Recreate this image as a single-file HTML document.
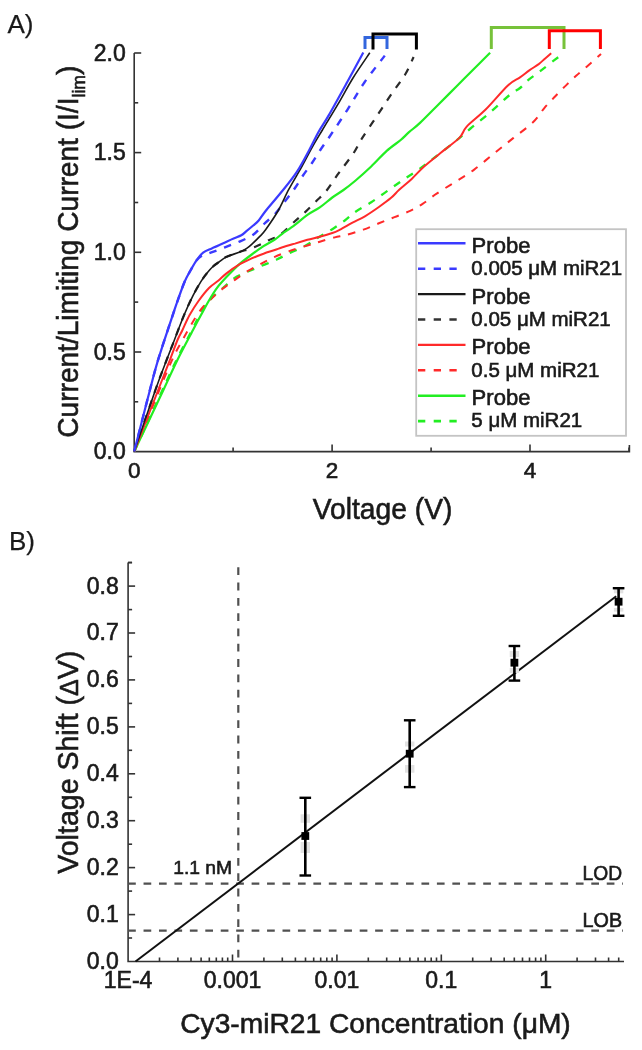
<!DOCTYPE html>
<html><head><meta charset="utf-8"><style>
html,body{margin:0;padding:0;background:#fff;}
svg{display:block;filter:blur(0.6px);}
</style></head><body>
<svg width="642" height="1050" viewBox="0 0 642 1050">
<rect width="642" height="1050" fill="#fff"/>
<text x="7.5" y="32.6" font-size="26" font-family="Liberation Sans, sans-serif" fill="#1a1a1a" stroke="#1a1a1a" stroke-width="0.25">A)</text>
<path d="M134.2,53 V451.6 H629.4 V445" fill="none" stroke="#333333" stroke-width="1.6"/>
<line x1="134.2" y1="401.8" x2="138.2" y2="401.8" stroke="#333333" stroke-width="1.6"/>
<line x1="134.2" y1="352.0" x2="141.2" y2="352.0" stroke="#333333" stroke-width="1.6"/>
<line x1="134.2" y1="302.1" x2="138.2" y2="302.1" stroke="#333333" stroke-width="1.6"/>
<line x1="134.2" y1="252.3" x2="141.2" y2="252.3" stroke="#333333" stroke-width="1.6"/>
<line x1="134.2" y1="202.5" x2="138.2" y2="202.5" stroke="#333333" stroke-width="1.6"/>
<line x1="134.2" y1="152.6" x2="141.2" y2="152.6" stroke="#333333" stroke-width="1.6"/>
<line x1="134.2" y1="102.8" x2="138.2" y2="102.8" stroke="#333333" stroke-width="1.6"/>
<line x1="134.2" y1="53.0" x2="141.2" y2="53.0" stroke="#333333" stroke-width="1.6"/>
<text x="125.8" y="459.2" font-size="23" text-anchor="end" font-family="Liberation Sans, sans-serif" fill="#1a1a1a" stroke="#1a1a1a" stroke-width="0.6">0.0</text>
<text x="125.8" y="359.6" font-size="23" text-anchor="end" font-family="Liberation Sans, sans-serif" fill="#1a1a1a" stroke="#1a1a1a" stroke-width="0.6">0.5</text>
<text x="125.8" y="259.9" font-size="23" text-anchor="end" font-family="Liberation Sans, sans-serif" fill="#1a1a1a" stroke="#1a1a1a" stroke-width="0.6">1.0</text>
<text x="125.8" y="160.2" font-size="23" text-anchor="end" font-family="Liberation Sans, sans-serif" fill="#1a1a1a" stroke="#1a1a1a" stroke-width="0.6">1.5</text>
<text x="125.8" y="60.6" font-size="23" text-anchor="end" font-family="Liberation Sans, sans-serif" fill="#1a1a1a" stroke="#1a1a1a" stroke-width="0.6">2.0</text>
<line x1="233.1" y1="451.6" x2="233.1" y2="447.6" stroke="#333333" stroke-width="1.6"/>
<line x1="332.1" y1="451.6" x2="332.1" y2="444.6" stroke="#333333" stroke-width="1.6"/>
<line x1="431.1" y1="451.6" x2="431.1" y2="447.6" stroke="#333333" stroke-width="1.6"/>
<line x1="530.0" y1="451.6" x2="530.0" y2="444.6" stroke="#333333" stroke-width="1.6"/>
<line x1="629.0" y1="451.6" x2="629.0" y2="447.6" stroke="#333333" stroke-width="1.6"/>
<text x="134.2" y="478.3" font-size="22.5" text-anchor="middle" font-family="Liberation Sans, sans-serif" fill="#1a1a1a" stroke="#1a1a1a" stroke-width="0.6">0</text>
<text x="332.1" y="478.3" font-size="22.5" text-anchor="middle" font-family="Liberation Sans, sans-serif" fill="#1a1a1a" stroke="#1a1a1a" stroke-width="0.6">2</text>
<text x="530.0" y="478.3" font-size="22.5" text-anchor="middle" font-family="Liberation Sans, sans-serif" fill="#1a1a1a" stroke="#1a1a1a" stroke-width="0.6">4</text>
<text x="382.6" y="518.7" font-size="29" text-anchor="middle" textLength="139.5" lengthAdjust="spacingAndGlyphs" font-family="Liberation Sans, sans-serif" fill="#1a1a1a" stroke="#1a1a1a" stroke-width="0.6">Voltage (V)</text>
<text transform="translate(78,251.7) rotate(-90) scale(0.952,1)" font-size="29.5" text-anchor="middle" font-family="Liberation Sans, sans-serif" fill="#1a1a1a" stroke="#1a1a1a" stroke-width="0.6">Current/Limiting Current (I/I<tspan font-size="18.5" dy="7.3">lim</tspan><tspan dy="-7.3">)</tspan></text>
<path d="M134.2,451.6 C138.9,441.3 155.4,405.3 162.5,390.0 C169.6,374.7 171.7,369.8 176.5,360.0 C181.3,350.2 187.2,339.4 191.5,331.0 C195.8,322.6 199.0,315.4 202.5,309.8 C206.0,304.2 208.9,301.0 212.4,297.3 C215.9,293.6 220.2,290.5 223.7,287.4 C227.2,284.3 229.7,281.2 233.6,278.6 C237.5,276.0 242.5,274.0 247.3,271.8 C252.1,269.6 257.5,267.5 262.3,265.5 C267.1,263.5 271.6,261.9 276.2,259.8 C280.8,257.7 285.1,255.2 289.9,252.9 C294.7,250.6 300.3,248.6 304.9,246.1 C309.5,243.6 313.0,240.7 317.4,238.0 C321.8,235.3 326.5,232.8 331.1,229.9 C335.7,227.0 340.7,223.5 344.8,220.5 C348.9,217.5 351.2,214.7 355.6,211.7 C360.0,208.7 366.0,205.7 371.2,202.3 C376.4,198.9 381.5,195.0 386.7,191.4 C391.9,187.8 397.0,184.1 402.3,180.5 C407.6,176.9 412.9,173.6 418.5,169.6 C424.1,165.6 429.5,161.5 436.0,156.5 C442.5,151.5 451.6,144.4 457.4,139.7 C463.1,135.0 464.9,133.2 470.5,128.5 C476.1,123.8 484.5,117.3 491.0,111.7 C497.5,106.1 504.9,98.9 509.7,94.9 C514.5,91.0 516.9,90.5 520.0,88.0 C523.1,85.5 525.0,82.7 528.4,79.9 C531.8,77.1 535.9,74.5 540.2,71.2 C544.5,67.9 550.4,63.2 554.3,60.2 C558.2,57.2 562.0,54.4 563.6,53.2" fill="none" stroke="#22ee22" stroke-width="2.3" stroke-dasharray="7.5 8" stroke-linejoin="round"/>
<path d="M134.2,451.6 C140.0,437.5 160.8,385.9 168.9,367.2 C177.0,348.5 177.9,348.5 183.0,339.2 C188.1,329.9 194.8,318.2 199.5,311.5 C204.2,304.8 207.2,302.8 211.0,299.0 C214.8,295.2 218.5,292.0 222.5,288.8 C226.5,285.6 230.6,282.9 234.9,279.9 C239.2,276.8 244.0,273.3 248.6,270.5 C253.2,267.7 257.9,265.4 262.3,263.1 C266.7,260.8 270.0,258.9 274.8,256.8 C279.6,254.7 285.8,252.3 291.2,250.4 C296.6,248.5 302.6,246.9 307.4,245.5 C312.2,244.1 315.2,243.0 319.8,241.7 C324.4,240.3 330.4,238.5 334.8,237.4 C339.2,236.3 341.4,236.3 346.2,235.0 C351.0,233.7 357.9,231.5 363.4,229.6 C368.8,227.7 373.7,225.4 378.9,223.3 C384.1,221.2 389.3,219.2 394.5,217.1 C399.7,215.0 405.4,213.1 410.1,210.9 C414.8,208.7 418.2,206.8 422.6,203.9 C427.0,201.0 431.2,197.3 436.6,193.7 C442.0,190.0 448.7,186.0 455.0,182.0 C461.3,178.0 467.6,174.5 474.2,169.6 C480.8,164.7 488.2,158.1 494.8,152.8 C501.4,147.5 507.1,143.0 513.5,137.9 C519.9,132.8 527.8,127.3 533.0,122.3 C538.2,117.3 540.8,112.1 544.5,107.8 C548.2,103.5 551.8,100.0 555.3,96.3 C558.8,92.6 562.3,89.0 565.8,85.6 C569.3,82.2 572.6,79.0 576.1,75.8 C579.6,72.6 582.9,70.1 587.0,66.5 C591.1,62.9 598.7,56.1 601.0,54.0" fill="none" stroke="#ff2a2a" stroke-width="2" stroke-dasharray="7.5 8" stroke-linejoin="round"/>
<path d="M134.2,451.6 C137.7,441.3 150.0,405.3 155.4,390.0 C160.8,374.7 163.4,368.3 166.6,360.0 C169.8,351.7 171.5,347.5 174.4,340.0 C177.3,332.5 181.0,322.4 184.1,315.0 C187.2,307.6 190.2,301.2 193.0,295.6 C195.8,290.0 198.8,285.0 201.2,281.1 C203.6,277.2 205.5,274.8 207.5,272.4 C209.5,270.0 211.1,268.2 213.0,266.5 C214.9,264.8 216.8,263.6 219.0,262.0 C221.2,260.4 222.7,258.7 226.0,257.1 C229.3,255.5 234.2,253.9 239.1,252.2 C244.0,250.5 250.4,248.7 255.4,246.7 C260.4,244.7 264.7,242.2 268.8,240.2 C272.9,238.2 275.6,238.1 280.0,234.9 C284.4,231.7 290.8,224.9 294.9,221.2 C299.0,217.4 301.4,215.7 304.9,212.4 C308.4,209.1 312.6,204.7 316.1,201.2 C319.6,197.7 322.6,195.5 326.1,191.2 C329.6,186.9 334.4,179.2 337.2,175.2 C340.0,171.2 340.3,171.1 343.1,167.3 C345.9,163.5 350.8,157.4 354.0,152.5 C357.2,147.6 358.4,144.1 362.3,137.9 C366.2,131.7 372.3,122.9 377.3,115.4 C382.3,107.9 387.5,99.8 392.2,93.0 C396.9,86.2 401.7,80.3 405.3,74.3 C408.9,68.3 412.2,59.9 413.6,57.0" fill="none" stroke="#2a2a2a" stroke-width="2.2" stroke-dasharray="7.5 8" stroke-linejoin="round"/>
<path d="M134.2,451.6 C137.4,439.1 148.9,393.5 153.4,376.6 C157.9,359.7 158.6,358.4 161.2,350.1 C163.8,341.8 166.3,334.5 168.9,326.7 C171.5,318.9 174.1,310.8 176.7,303.4 C179.3,295.9 182.2,287.5 184.5,282.0 C186.8,276.5 188.5,274.1 190.5,270.5 C192.5,266.9 194.7,262.9 196.5,260.5 C198.3,258.1 199.1,257.3 201.5,256.0 C203.9,254.7 206.8,254.1 210.7,252.7 C214.6,251.2 220.0,249.2 224.9,247.3 C229.8,245.4 235.5,243.4 240.2,241.3 C244.9,239.2 249.2,237.6 253.2,234.7 C257.2,231.8 260.4,227.4 264.0,224.0 C267.6,220.6 271.3,218.0 275.0,214.0 C278.7,210.0 282.7,204.3 286.0,200.0 C289.3,195.7 292.2,192.1 295.0,188.0 C297.8,183.9 300.2,179.7 303.0,175.5 C305.8,171.3 309.2,167.2 312.0,163.0 C314.8,158.8 317.2,154.8 320.0,150.5 C322.8,146.2 324.4,144.3 329.0,137.5 C333.6,130.7 341.5,118.9 347.4,109.8 C353.3,100.7 358.0,91.7 364.2,82.7 C370.4,73.7 381.4,60.1 384.8,55.6" fill="none" stroke="#3a3aff" stroke-width="2.4" stroke-dasharray="7.5 8" stroke-linejoin="round"/>
<path d="M134.2,451.6 C139.1,441.3 156.2,405.3 163.4,390.0 C170.6,374.7 172.5,370.0 177.4,360.0 C182.3,350.0 189.1,337.5 193.0,330.0 C196.9,322.5 198.3,319.9 201.0,315.0 C203.7,310.1 206.3,305.1 209.0,300.5 C211.7,295.9 214.3,291.5 217.4,287.4 C220.5,283.3 223.9,279.9 227.4,276.1 C230.9,272.4 234.7,268.4 238.6,264.9 C242.5,261.4 246.9,258.1 251.1,255.0 C255.2,251.9 259.6,248.8 263.5,246.2 C267.4,243.6 271.6,241.6 274.8,239.5 C278.0,237.4 279.1,236.0 282.5,233.6 C285.9,231.2 290.8,228.0 294.9,224.9 C299.0,221.8 303.2,217.8 307.4,214.9 C311.5,212.0 315.6,210.3 319.8,207.4 C324.0,204.5 328.4,200.4 332.3,197.5 C336.2,194.6 339.6,192.8 343.5,190.0 C347.4,187.2 351.0,184.4 355.6,180.5 C360.2,176.6 366.0,171.4 371.2,166.5 C376.4,161.6 381.8,155.3 386.7,150.9 C391.6,146.5 397.0,143.1 400.7,140.0 C404.4,136.9 405.8,135.0 409.0,132.2 C412.2,129.3 415.1,127.6 420.0,122.9 C424.9,118.2 432.5,110.4 438.7,104.2 C444.9,98.0 451.2,91.7 457.4,85.5 C463.6,79.3 470.7,72.2 476.1,66.8 C481.6,61.3 487.8,55.1 490.1,52.8" fill="none" stroke="#22ee22" stroke-width="2.2" stroke-linejoin="round"/>
<path d="M134.2,451.6 C138.2,441.3 152.2,405.3 158.2,390.0 C164.1,374.7 166.7,368.3 169.9,360.0 C173.1,351.7 175.4,345.0 177.5,340.0 C179.6,335.0 180.5,334.2 182.5,330.0 C184.5,325.8 186.9,319.8 189.6,315.0 C192.3,310.2 195.3,305.5 198.5,301.0 C201.7,296.5 205.7,291.4 209.0,288.0 C212.3,284.6 215.6,282.9 218.5,280.5 C221.4,278.1 222.8,276.2 226.2,273.6 C229.5,271.0 234.4,267.4 238.6,264.9 C242.8,262.4 246.9,260.6 251.1,258.7 C255.2,256.8 259.6,255.1 263.5,253.7 C267.4,252.2 271.6,251.1 274.8,250.0 C278.0,248.9 279.1,248.4 282.5,247.3 C285.9,246.2 290.8,244.8 294.9,243.6 C299.0,242.3 303.2,241.0 307.4,239.8 C311.5,238.7 315.6,237.8 319.8,236.7 C324.0,235.6 328.9,234.2 332.3,233.0 C335.7,231.8 336.6,231.3 340.0,229.6 C343.4,227.9 348.4,224.8 352.5,222.6 C356.6,220.4 360.5,218.9 364.9,216.3 C369.3,213.7 374.5,210.1 378.9,207.0 C383.3,203.9 388.0,200.5 391.4,197.6 C394.8,194.7 395.8,192.9 399.2,189.8 C402.6,186.7 407.5,182.8 411.7,178.9 C415.9,175.0 419.3,170.8 424.1,166.5 C428.9,162.2 434.6,157.8 440.5,153.0 C446.4,148.2 454.9,142.3 459.3,137.9 C463.7,133.5 462.4,131.3 466.7,126.6 C471.0,121.9 478.5,116.6 485.4,109.8 C492.3,103.0 502.1,90.9 507.9,85.5 C513.7,80.1 516.4,79.9 520.0,77.4 C523.6,74.9 526.2,72.6 529.3,70.4 C532.4,68.2 536.1,66.0 538.7,64.1 C541.3,62.1 542.8,60.5 544.9,58.7 C547.0,56.9 550.2,54.1 551.2,53.2" fill="none" stroke="#ff2a2a" stroke-width="2" stroke-linejoin="round"/>
<path d="M134.2,451.6 C137.7,441.3 150.0,405.3 155.4,390.0 C160.8,374.7 163.4,368.3 166.6,360.0 C169.8,351.7 171.5,347.5 174.4,340.0 C177.3,332.5 181.0,322.4 184.1,315.0 C187.2,307.6 190.2,301.2 193.0,295.6 C195.8,290.0 198.8,285.0 201.2,281.1 C203.6,277.2 205.5,274.8 207.5,272.4 C209.5,270.0 211.1,268.2 213.0,266.5 C214.9,264.8 216.8,263.6 219.0,262.0 C221.2,260.4 222.7,258.7 226.0,257.1 C229.3,255.5 235.7,253.6 239.1,252.2 C242.5,250.8 244.3,249.9 246.7,248.4 C249.0,246.9 251.0,244.9 253.2,242.9 C255.4,240.9 257.7,238.6 259.8,236.4 C261.9,234.2 262.6,233.9 265.6,229.7 C268.6,225.5 274.1,217.8 278.0,211.0 C281.9,204.2 285.0,196.5 288.9,189.2 C292.8,181.9 297.5,174.4 301.4,167.4 C305.3,160.4 308.8,153.3 312.3,147.1 C315.8,140.9 318.1,137.2 322.4,130.0 C326.7,122.8 332.9,112.9 338.0,104.2 C343.1,95.5 347.7,86.6 353.0,78.0 C358.3,69.4 367.0,57.0 369.8,52.8" fill="none" stroke="#1a1a1a" stroke-width="1.6" stroke-linejoin="round"/>
<path d="M134.2,451.6 C137.4,439.1 148.9,393.5 153.4,376.6 C157.9,359.7 158.6,358.4 161.2,350.1 C163.8,341.8 166.3,334.5 168.9,326.7 C171.5,318.9 174.1,310.8 176.7,303.4 C179.3,295.9 182.2,287.5 184.5,282.0 C186.8,276.5 188.5,274.1 190.5,270.5 C192.5,266.9 194.4,263.3 196.5,260.3 C198.6,257.3 200.5,254.7 203.1,252.7 C205.7,250.7 208.5,249.9 211.8,248.4 C215.1,246.9 219.1,245.1 222.7,243.4 C226.3,241.8 230.5,239.8 233.6,238.5 C236.7,237.2 239.1,236.6 241.3,235.3 C243.5,234.0 244.7,232.5 246.7,230.9 C248.7,229.3 251.2,227.2 253.2,225.5 C255.2,223.8 256.6,222.9 258.7,220.5 C260.8,218.1 261.9,215.7 265.6,211.0 C269.4,206.3 276.0,198.8 281.2,192.3 C286.4,185.8 292.0,179.2 296.7,172.1 C301.4,165.0 305.9,156.2 309.5,149.5 C313.1,142.8 315.3,137.7 318.5,132.0 C321.7,126.3 323.9,123.8 328.7,115.4 C333.5,107.0 341.6,92.3 347.4,81.8 C353.2,71.3 360.6,57.4 363.3,52.5" fill="none" stroke="#3a3aff" stroke-width="2.2" stroke-linejoin="round"/>
<path d="M365,49 V37.5 H387 V49" fill="none" stroke="#3366dd" stroke-width="3"/>
<path d="M373,49.5 V34 H416.4 V49.5" fill="none" stroke="#000" stroke-width="3"/>
<path d="M491.3,49 V27.6 H564 V49" fill="none" stroke="#77c23a" stroke-width="3"/>
<path d="M549.3,49 V30.7 H600.4 V49" fill="none" stroke="#ff0000" stroke-width="3"/>
<rect x="416.2" y="229.2" width="209.8" height="206.6" fill="#fff" stroke="#c4c4c4" stroke-width="1.8"/>
<line x1="418" y1="243.3" x2="465.5" y2="243.3" stroke="#3a3aff" stroke-width="2.4"/>
<text x="471.6" y="252.8" font-size="21.5" textLength="58.8" lengthAdjust="spacingAndGlyphs" font-family="Liberation Sans, sans-serif" fill="#1a1a1a" stroke="#1a1a1a" stroke-width="0.6">Probe</text>
<line x1="418" y1="268.7" x2="457" y2="268.7" stroke="#3a3aff" stroke-width="2.6" stroke-dasharray="7.3 8.4"/>
<text x="471.3" y="274.9" font-size="20.5" font-family="Liberation Sans, sans-serif" fill="#1a1a1a" stroke="#1a1a1a" stroke-width="0.6">0.005 μM miR21</text>
<line x1="418" y1="294.1" x2="465.5" y2="294.1" stroke="#1a1a1a" stroke-width="2.4"/>
<text x="471.6" y="303.6" font-size="21.5" textLength="58.8" lengthAdjust="spacingAndGlyphs" font-family="Liberation Sans, sans-serif" fill="#1a1a1a" stroke="#1a1a1a" stroke-width="0.6">Probe</text>
<line x1="418" y1="319.5" x2="457" y2="319.5" stroke="#333" stroke-width="2.6" stroke-dasharray="7.3 8.4"/>
<text x="471.3" y="325.7" font-size="20.5" font-family="Liberation Sans, sans-serif" fill="#1a1a1a" stroke="#1a1a1a" stroke-width="0.6">0.05 μM miR21</text>
<line x1="418" y1="344.9" x2="465.5" y2="344.9" stroke="#ff2a2a" stroke-width="2.4"/>
<text x="471.6" y="354.4" font-size="21.5" textLength="58.8" lengthAdjust="spacingAndGlyphs" font-family="Liberation Sans, sans-serif" fill="#1a1a1a" stroke="#1a1a1a" stroke-width="0.6">Probe</text>
<line x1="418" y1="370.3" x2="457" y2="370.3" stroke="#ff2a2a" stroke-width="2.6" stroke-dasharray="7.3 8.4"/>
<text x="471.3" y="376.5" font-size="20.5" font-family="Liberation Sans, sans-serif" fill="#1a1a1a" stroke="#1a1a1a" stroke-width="0.6">0.5 μM miR21</text>
<line x1="418" y1="395.7" x2="465.5" y2="395.7" stroke="#22ee22" stroke-width="2.4"/>
<text x="471.6" y="405.2" font-size="21.5" textLength="58.8" lengthAdjust="spacingAndGlyphs" font-family="Liberation Sans, sans-serif" fill="#1a1a1a" stroke="#1a1a1a" stroke-width="0.6">Probe</text>
<line x1="418" y1="421.1" x2="457" y2="421.1" stroke="#22ee22" stroke-width="2.6" stroke-dasharray="7.3 8.4"/>
<text x="471.3" y="427.3" font-size="20.5" font-family="Liberation Sans, sans-serif" fill="#1a1a1a" stroke="#1a1a1a" stroke-width="0.6">5 μM miR21</text>
<text x="9.0" y="550.0" font-size="26" font-family="Liberation Sans, sans-serif" fill="#1a1a1a" stroke="#1a1a1a" stroke-width="0.25">B)</text>
<path d="M128.1,562.5 V961.5 H624" fill="none" stroke="#333333" stroke-width="1.6"/>
<line x1="128.1" y1="562.5" x2="132" y2="562.5" stroke="#333333" stroke-width="1.6"/>
<line x1="128.1" y1="938.0" x2="132.1" y2="938.0" stroke="#333333" stroke-width="1.6"/>
<line x1="128.1" y1="914.6" x2="135.1" y2="914.6" stroke="#333333" stroke-width="1.6"/>
<line x1="128.1" y1="891.1" x2="132.1" y2="891.1" stroke="#333333" stroke-width="1.6"/>
<line x1="128.1" y1="867.6" x2="135.1" y2="867.6" stroke="#333333" stroke-width="1.6"/>
<line x1="128.1" y1="844.2" x2="132.1" y2="844.2" stroke="#333333" stroke-width="1.6"/>
<line x1="128.1" y1="820.7" x2="135.1" y2="820.7" stroke="#333333" stroke-width="1.6"/>
<line x1="128.1" y1="797.3" x2="132.1" y2="797.3" stroke="#333333" stroke-width="1.6"/>
<line x1="128.1" y1="773.8" x2="135.1" y2="773.8" stroke="#333333" stroke-width="1.6"/>
<line x1="128.1" y1="750.3" x2="132.1" y2="750.3" stroke="#333333" stroke-width="1.6"/>
<line x1="128.1" y1="726.9" x2="135.1" y2="726.9" stroke="#333333" stroke-width="1.6"/>
<line x1="128.1" y1="703.4" x2="132.1" y2="703.4" stroke="#333333" stroke-width="1.6"/>
<line x1="128.1" y1="679.9" x2="135.1" y2="679.9" stroke="#333333" stroke-width="1.6"/>
<line x1="128.1" y1="656.5" x2="132.1" y2="656.5" stroke="#333333" stroke-width="1.6"/>
<line x1="128.1" y1="633.0" x2="135.1" y2="633.0" stroke="#333333" stroke-width="1.6"/>
<line x1="128.1" y1="609.6" x2="132.1" y2="609.6" stroke="#333333" stroke-width="1.6"/>
<line x1="128.1" y1="586.1" x2="135.1" y2="586.1" stroke="#333333" stroke-width="1.6"/>
<line x1="128.1" y1="562.6" x2="132.1" y2="562.6" stroke="#333333" stroke-width="1.6"/>
<text x="118.8" y="968.9" font-size="23" text-anchor="end" font-family="Liberation Sans, sans-serif" fill="#1a1a1a" stroke="#1a1a1a" stroke-width="0.6">0.0</text>
<text x="118.8" y="922.0" font-size="23" text-anchor="end" font-family="Liberation Sans, sans-serif" fill="#1a1a1a" stroke="#1a1a1a" stroke-width="0.6">0.1</text>
<text x="118.8" y="875.0" font-size="23" text-anchor="end" font-family="Liberation Sans, sans-serif" fill="#1a1a1a" stroke="#1a1a1a" stroke-width="0.6">0.2</text>
<text x="118.8" y="828.1" font-size="23" text-anchor="end" font-family="Liberation Sans, sans-serif" fill="#1a1a1a" stroke="#1a1a1a" stroke-width="0.6">0.3</text>
<text x="118.8" y="781.2" font-size="23" text-anchor="end" font-family="Liberation Sans, sans-serif" fill="#1a1a1a" stroke="#1a1a1a" stroke-width="0.6">0.4</text>
<text x="118.8" y="734.3" font-size="23" text-anchor="end" font-family="Liberation Sans, sans-serif" fill="#1a1a1a" stroke="#1a1a1a" stroke-width="0.6">0.5</text>
<text x="118.8" y="687.3" font-size="23" text-anchor="end" font-family="Liberation Sans, sans-serif" fill="#1a1a1a" stroke="#1a1a1a" stroke-width="0.6">0.6</text>
<text x="118.8" y="640.4" font-size="23" text-anchor="end" font-family="Liberation Sans, sans-serif" fill="#1a1a1a" stroke="#1a1a1a" stroke-width="0.6">0.7</text>
<text x="118.8" y="593.5" font-size="23" text-anchor="end" font-family="Liberation Sans, sans-serif" fill="#1a1a1a" stroke="#1a1a1a" stroke-width="0.6">0.8</text>
<line x1="159.5" y1="961.5" x2="159.5" y2="957.5" stroke="#333333" stroke-width="1.6"/>
<line x1="177.9" y1="961.5" x2="177.9" y2="957.5" stroke="#333333" stroke-width="1.6"/>
<line x1="191.0" y1="961.5" x2="191.0" y2="957.5" stroke="#333333" stroke-width="1.6"/>
<line x1="201.1" y1="961.5" x2="201.1" y2="957.5" stroke="#333333" stroke-width="1.6"/>
<line x1="209.3" y1="961.5" x2="209.3" y2="957.5" stroke="#333333" stroke-width="1.6"/>
<line x1="216.3" y1="961.5" x2="216.3" y2="957.5" stroke="#333333" stroke-width="1.6"/>
<line x1="222.4" y1="961.5" x2="222.4" y2="957.5" stroke="#333333" stroke-width="1.6"/>
<line x1="227.7" y1="961.5" x2="227.7" y2="957.5" stroke="#333333" stroke-width="1.6"/>
<line x1="232.5" y1="961.5" x2="232.5" y2="954.5" stroke="#333333" stroke-width="1.6"/>
<line x1="263.9" y1="961.5" x2="263.9" y2="957.5" stroke="#333333" stroke-width="1.6"/>
<line x1="282.3" y1="961.5" x2="282.3" y2="957.5" stroke="#333333" stroke-width="1.6"/>
<line x1="295.4" y1="961.5" x2="295.4" y2="957.5" stroke="#333333" stroke-width="1.6"/>
<line x1="305.5" y1="961.5" x2="305.5" y2="957.5" stroke="#333333" stroke-width="1.6"/>
<line x1="313.7" y1="961.5" x2="313.7" y2="957.5" stroke="#333333" stroke-width="1.6"/>
<line x1="320.7" y1="961.5" x2="320.7" y2="957.5" stroke="#333333" stroke-width="1.6"/>
<line x1="326.8" y1="961.5" x2="326.8" y2="957.5" stroke="#333333" stroke-width="1.6"/>
<line x1="332.1" y1="961.5" x2="332.1" y2="957.5" stroke="#333333" stroke-width="1.6"/>
<line x1="336.9" y1="961.5" x2="336.9" y2="954.5" stroke="#333333" stroke-width="1.6"/>
<line x1="368.3" y1="961.5" x2="368.3" y2="957.5" stroke="#333333" stroke-width="1.6"/>
<line x1="386.7" y1="961.5" x2="386.7" y2="957.5" stroke="#333333" stroke-width="1.6"/>
<line x1="399.8" y1="961.5" x2="399.8" y2="957.5" stroke="#333333" stroke-width="1.6"/>
<line x1="409.9" y1="961.5" x2="409.9" y2="957.5" stroke="#333333" stroke-width="1.6"/>
<line x1="418.1" y1="961.5" x2="418.1" y2="957.5" stroke="#333333" stroke-width="1.6"/>
<line x1="425.1" y1="961.5" x2="425.1" y2="957.5" stroke="#333333" stroke-width="1.6"/>
<line x1="431.2" y1="961.5" x2="431.2" y2="957.5" stroke="#333333" stroke-width="1.6"/>
<line x1="436.5" y1="961.5" x2="436.5" y2="957.5" stroke="#333333" stroke-width="1.6"/>
<line x1="441.3" y1="961.5" x2="441.3" y2="954.5" stroke="#333333" stroke-width="1.6"/>
<line x1="472.7" y1="961.5" x2="472.7" y2="957.5" stroke="#333333" stroke-width="1.6"/>
<line x1="491.1" y1="961.5" x2="491.1" y2="957.5" stroke="#333333" stroke-width="1.6"/>
<line x1="504.2" y1="961.5" x2="504.2" y2="957.5" stroke="#333333" stroke-width="1.6"/>
<line x1="514.3" y1="961.5" x2="514.3" y2="957.5" stroke="#333333" stroke-width="1.6"/>
<line x1="522.5" y1="961.5" x2="522.5" y2="957.5" stroke="#333333" stroke-width="1.6"/>
<line x1="529.5" y1="961.5" x2="529.5" y2="957.5" stroke="#333333" stroke-width="1.6"/>
<line x1="535.6" y1="961.5" x2="535.6" y2="957.5" stroke="#333333" stroke-width="1.6"/>
<line x1="540.9" y1="961.5" x2="540.9" y2="957.5" stroke="#333333" stroke-width="1.6"/>
<line x1="545.7" y1="961.5" x2="545.7" y2="954.5" stroke="#333333" stroke-width="1.6"/>
<line x1="577.1" y1="961.5" x2="577.1" y2="957.5" stroke="#333333" stroke-width="1.6"/>
<line x1="595.5" y1="961.5" x2="595.5" y2="957.5" stroke="#333333" stroke-width="1.6"/>
<line x1="608.6" y1="961.5" x2="608.6" y2="957.5" stroke="#333333" stroke-width="1.6"/>
<line x1="618.7" y1="961.5" x2="618.7" y2="957.5" stroke="#333333" stroke-width="1.6"/>
<text x="128.1" y="987.8" font-size="23" text-anchor="middle" font-family="Liberation Sans, sans-serif" fill="#1a1a1a" stroke="#1a1a1a" stroke-width="0.6">1E-4</text>
<text x="232.5" y="987.8" font-size="23" text-anchor="middle" font-family="Liberation Sans, sans-serif" fill="#1a1a1a" stroke="#1a1a1a" stroke-width="0.6">0.001</text>
<text x="336.9" y="987.8" font-size="23" text-anchor="middle" font-family="Liberation Sans, sans-serif" fill="#1a1a1a" stroke="#1a1a1a" stroke-width="0.6">0.01</text>
<text x="441.3" y="987.8" font-size="23" text-anchor="middle" font-family="Liberation Sans, sans-serif" fill="#1a1a1a" stroke="#1a1a1a" stroke-width="0.6">0.1</text>
<text x="545.7" y="987.8" font-size="23" text-anchor="middle" font-family="Liberation Sans, sans-serif" fill="#1a1a1a" stroke="#1a1a1a" stroke-width="0.6">1</text>
<text x="375.5" y="1032.8" font-size="28.5" text-anchor="middle" textLength="390.5" lengthAdjust="spacingAndGlyphs" font-family="Liberation Sans, sans-serif" fill="#1a1a1a" stroke="#1a1a1a" stroke-width="0.6">Cy3-miR21 Concentration (μM)</text>
<text transform="translate(77.7,762.2) rotate(-90) scale(0.985,1)" font-size="29" text-anchor="middle" font-family="Liberation Sans, sans-serif" fill="#1a1a1a" stroke="#1a1a1a" stroke-width="0.6">Voltage Shift (<tspan font-size="25.5">Δ</tspan>V)</text>
<line x1="128.1" y1="883.6" x2="623" y2="883.6" stroke="#505050" stroke-width="2.2" stroke-dasharray="7.7 7.74"/>
<line x1="128.1" y1="930.7" x2="623" y2="930.7" stroke="#505050" stroke-width="2.2" stroke-dasharray="7.7 7.74"/>
<line x1="238.3" y1="567.3" x2="238.3" y2="961.5" stroke="#505050" stroke-width="2.2" stroke-dasharray="7.8 7.5"/>
<text x="173.2" y="873.6" font-size="19" textLength="59" lengthAdjust="spacingAndGlyphs" font-family="Liberation Sans, sans-serif" fill="#1a1a1a" stroke="#1a1a1a" stroke-width="0.6">1.1 nM</text>
<text x="582.6" y="880.4" font-size="19.5" textLength="39.5" lengthAdjust="spacingAndGlyphs" font-family="Liberation Sans, sans-serif" fill="#1a1a1a" stroke="#1a1a1a" stroke-width="0.6">LOD</text>
<text x="582.6" y="927.4" font-size="19.5" textLength="39.5" lengthAdjust="spacingAndGlyphs" font-family="Liberation Sans, sans-serif" fill="#1a1a1a" stroke="#1a1a1a" stroke-width="0.6">LOB</text>
<line x1="135.5" y1="961.5" x2="616.2" y2="596.2" stroke="#111" stroke-width="2"/>
<rect x="300.6" y="814.3" width="9.4" height="8.5" fill="#e2e2e2"/>
<rect x="300.6" y="842.0" width="9.4" height="11.0" fill="#e2e2e2"/>
<line x1="305.3" y1="797.8" x2="305.3" y2="875.5" stroke="#000" stroke-width="2.6"/>
<line x1="299.5" y1="797.8" x2="311.1" y2="797.8" stroke="#000" stroke-width="2.4"/>
<line x1="299.5" y1="875.5" x2="311.1" y2="875.5" stroke="#000" stroke-width="2.4"/>
<rect x="301.4" y="832.1" width="7.8" height="7.8" fill="#000"/>
<rect x="405.0" y="741.5" width="9.4" height="5.0" fill="#e2e2e2"/>
<rect x="405.0" y="765.0" width="9.4" height="7.7" fill="#e2e2e2"/>
<line x1="409.7" y1="720.3" x2="409.7" y2="787.1" stroke="#000" stroke-width="2.6"/>
<line x1="403.9" y1="720.3" x2="415.5" y2="720.3" stroke="#000" stroke-width="2.4"/>
<line x1="403.9" y1="787.1" x2="415.5" y2="787.1" stroke="#000" stroke-width="2.4"/>
<rect x="405.8" y="749.8" width="7.8" height="7.8" fill="#000"/>
<rect x="509.7" y="651.0" width="9.4" height="6.0" fill="#e2e2e2"/>
<rect x="509.7" y="668.0" width="9.4" height="5.0" fill="#e2e2e2"/>
<line x1="514.4" y1="646" x2="514.4" y2="680.6" stroke="#000" stroke-width="2.6"/>
<line x1="508.6" y1="646" x2="520.2" y2="646" stroke="#000" stroke-width="2.4"/>
<line x1="508.6" y1="680.6" x2="520.2" y2="680.6" stroke="#000" stroke-width="2.4"/>
<rect x="510.5" y="658.8" width="7.8" height="7.8" fill="#000"/>
<rect x="613.9" y="589.0" width="9.4" height="4.3" fill="#e2e2e2"/>
<rect x="613.9" y="608.0" width="9.4" height="3.6" fill="#e2e2e2"/>
<line x1="618.6" y1="588.2" x2="618.6" y2="615.8" stroke="#000" stroke-width="2.6"/>
<line x1="612.8" y1="588.2" x2="624.4" y2="588.2" stroke="#000" stroke-width="2.4"/>
<line x1="612.8" y1="615.8" x2="624.4" y2="615.8" stroke="#000" stroke-width="2.4"/>
<rect x="614.7" y="597.8" width="7.8" height="7.8" fill="#000"/>
</svg>
</body></html>
